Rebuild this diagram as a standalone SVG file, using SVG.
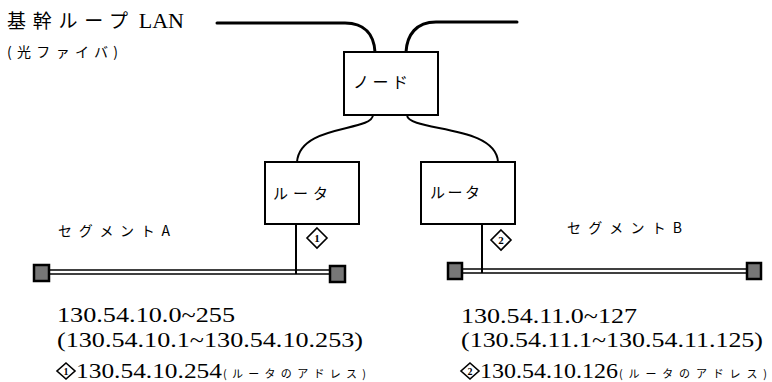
<svg xmlns="http://www.w3.org/2000/svg" width="772" height="382" viewBox="0 0 772 382">
<style>
.box{fill:#fff;stroke:#000;stroke-width:2}
.cable{fill:none;stroke:#000;stroke-width:3;stroke-linecap:round}
.link{fill:none;stroke:#000;stroke-width:2}
.seg{fill:none;stroke:#000;stroke-width:1.6}
.term{fill:#777;stroke:#000;stroke-width:2.5}
.dia{fill:#fff;stroke:#000;stroke-width:1.6}
.jp{font-family:"Noto Sans CJK JP","Noto Sans",sans-serif;fill:#000}
.num{font-family:"Liberation Serif","DejaVu Serif",serif;font-size:22px;fill:#000}
.dn{font-family:"Liberation Serif",serif;font-size:11px;font-weight:bold;fill:#000;text-anchor:middle}
.dns{font-family:"Liberation Serif",serif;font-size:10px;font-weight:bold;fill:#000;text-anchor:middle}
</style>
<rect width="772" height="382" fill="#fff"/>
<text x="7" y="28"><tspan class="jp" font-size="19" textLength="121" lengthAdjust="spacing">基幹ループ</tspan><tspan class="num" font-size="21" dx="4">LAN</tspan></text>
<text class="jp" x="7" y="57" font-size="14" textLength="111" lengthAdjust="spacing">(光ファイバ)</text>
<g id="connectors">
<path class="cable" d="M217,23 L345,23 C365,23 374,35 375,52"/>
<path class="cable" d="M406,52 C407,35 416,22 436,22 L517,22"/>
<path class="link" d="M373,115 C372,132 300,124 297,162"/>
<path class="link" d="M407,115 C408,132 496,124 498,162"/>
<line class="link" x1="296" y1="224" x2="296" y2="274"/>
<line class="link" x1="482" y1="224" x2="482" y2="273"/>
</g>
<g id="backbone-node">
<rect class="box" x="344" y="52" width="94" height="63"/>
<text class="jp" x="353" y="88" font-size="16" textLength="55" lengthAdjust="spacing">ノード</text>
</g>
<g id="router-a">
<rect class="box" x="265" y="162" width="94" height="62"/>
<text class="jp" x="273" y="199" font-size="15" textLength="55" lengthAdjust="spacing">ルータ</text>
</g>
<g id="router-b">
<rect class="box" x="421" y="162" width="94" height="62"/>
<text class="jp" x="430" y="198" font-size="15" textLength="50" lengthAdjust="spacing">ルータ</text>
</g>
<g id="segment-a">
<line class="seg" x1="50" y1="270" x2="329" y2="270"/>
<line class="seg" x1="50" y1="274" x2="329" y2="274"/>
<rect class="term" x="34" y="265" width="15" height="16"/>
<rect class="term" x="330" y="266" width="15" height="16"/>
<polygon class="dia" points="317,228 327,238 317,248 307,238"/>
<text class="dn" x="317" y="242">1</text>
<text class="jp" x="58" y="236" font-size="14" textLength="112" lengthAdjust="spacing">セグメントA</text>
</g>
<g id="segment-b">
<line class="seg" x1="463" y1="269" x2="747" y2="269"/>
<line class="seg" x1="463" y1="273" x2="747" y2="273"/>
<rect class="term" x="448" y="263" width="14" height="16"/>
<rect class="term" x="747" y="263" width="14" height="16"/>
<polygon class="dia" points="501,230 511,240 501,250 491,240"/>
<text class="dn" x="501" y="244">2</text>
<text class="jp" x="567" y="233" font-size="14" textLength="115" lengthAdjust="spacing">セグメントB</text>
</g>
<g id="labels-a">
<text class="num" x="57" y="322" textLength="178" lengthAdjust="spacingAndGlyphs">130.54.10.0~255</text>
<text class="num" x="57" y="347" textLength="306" lengthAdjust="spacingAndGlyphs">(130.54.10.1~130.54.10.253)</text>
<polygon class="dia" points="66,363 75,371 66,379 57,371"/>
<text class="dns" x="66" y="374.5">1</text>
<text class="num" x="76" y="378" textLength="146" lengthAdjust="spacingAndGlyphs">130.54.10.254</text>
<text class="jp" x="223" y="378" font-size="11" textLength="143" lengthAdjust="spacing">(ルータのアドレス)</text>
</g>
<g id="labels-b">
<text class="num" x="461" y="323" textLength="176" lengthAdjust="spacingAndGlyphs">130.54.11.0~127</text>
<text class="num" x="461" y="347" textLength="302" lengthAdjust="spacingAndGlyphs">(130.54.11.1~130.54.11.125)</text>
<polygon class="dia" points="470,363 479,371 470,379 461,371"/>
<text class="dns" x="470" y="374.5">2</text>
<text class="num" x="480" y="378" textLength="138" lengthAdjust="spacingAndGlyphs">130.54.10.126</text>
<text class="jp" x="619" y="378" font-size="11" textLength="148" lengthAdjust="spacing">(ルータのアドレス)</text>
</g>
</svg>
